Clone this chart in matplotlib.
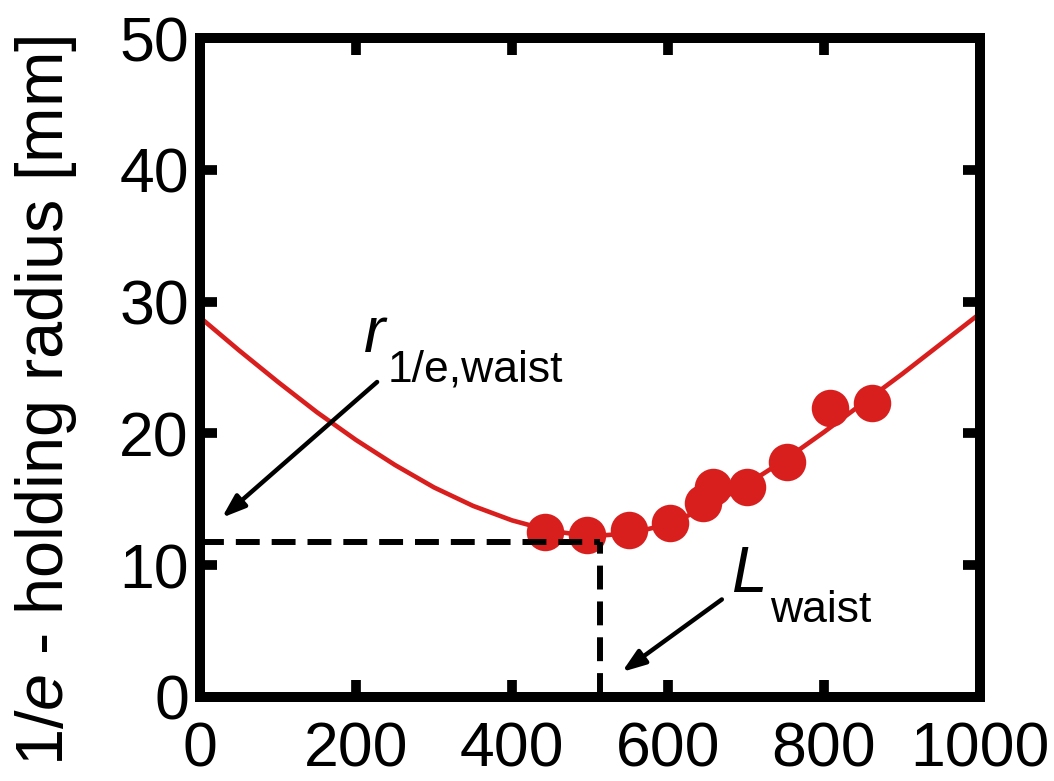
import matplotlib.pyplot as plt

plt.rcParams['font.family'] = ['Liberation Sans', 'DejaVu Sans']
plt.rcParams['mathtext.fontset'] = 'custom'
plt.rcParams['mathtext.rm'] = 'Liberation Sans'
plt.rcParams['mathtext.it'] = 'Liberation Sans:italic'

# fitted curve
curve_x = [0, 50, 100, 150, 200, 250, 300, 350, 400, 450, 500,
           550, 600, 650, 700, 750, 800, 850, 900, 950, 1000]
curve_y = [28.8, 26.3, 23.9, 21.6, 19.5, 17.6, 15.9, 14.5, 13.4, 12.6, 12.2,
           12.4, 13.1, 14.4, 16.1, 18.0, 20.1, 22.3, 24.5, 26.8, 29.1]

# measured points
meas_x = [442, 496, 550, 603, 645, 658, 701, 753, 808, 862]
meas_y = [12.5, 12.3, 12.7, 13.2, 14.7, 15.9, 15.9, 17.8, 21.9, 22.3]

waist_x = 513
waist_r = 11.75

xticks = [0, 200, 400, 600, 800, 1000]
yticks = [0, 10, 20, 30, 40, 50]

red = '#d91e1e'

fig = plt.figure(figsize=(10.54, 7.81), dpi=100)
ax = fig.add_axes([0.1898, 0.1076, 0.74, 0.8437])

ax.plot(curve_x, curve_y, color=red, lw=3.3, zorder=2,
        solid_joinstyle='round')
ax.plot(meas_x, meas_y, 'o', color=red, ms=27, mec='none', zorder=3)

# waist guides
ax.plot([0, waist_x], [waist_r, waist_r], color='black', lw=4.3,
        linestyle=(0, (4, 2)), zorder=4)
ax.plot([waist_x, waist_x], [0, waist_r], color='black', lw=4.3,
        linestyle=(0, (4, 2)), zorder=4)

arrow = dict(arrowstyle='-|>,head_length=1.4,head_width=0.5',
             color='black', lw=3.2, shrinkA=0, shrinkB=0)

# labels and arrows
ax.text(210, 26.2, 'r', style='italic', fontsize=46, ha='left', va='baseline')
ax.text(241, 23.9, '1/e,waist', fontsize=32, ha='left', va='baseline')
ax.annotate('', xy=(28, 13.6), xytext=(227, 23.9), arrowprops=arrow)

ax.text(681, 7.97, 'L', style='italic', fontsize=46, ha='left', va='baseline')
ax.text(731, 5.7, 'waist', fontsize=32, ha='left', va='baseline')
ax.annotate('', xy=(541, 1.9), xytext=(669, 7.4), arrowprops=arrow)

ax.set_xlim(0, 1000)
ax.set_ylim(0, 50)
ax.set_xticks(xticks)
ax.set_yticks(yticks)
ax.tick_params(direction='in', length=12, width=7, labelsize=45,
               top=True, right=True)
ax.tick_params(axis='x', pad=17)
ax.tick_params(axis='y', pad=8)
for s in ax.spines.values():
    s.set_linewidth(7.2)

ax.set_ylabel('1/$e$ - holding radius [mm]', fontsize=48)
ax.yaxis.set_label_coords(-0.155, 0.45)

fig.savefig('out.png', dpi=100)
